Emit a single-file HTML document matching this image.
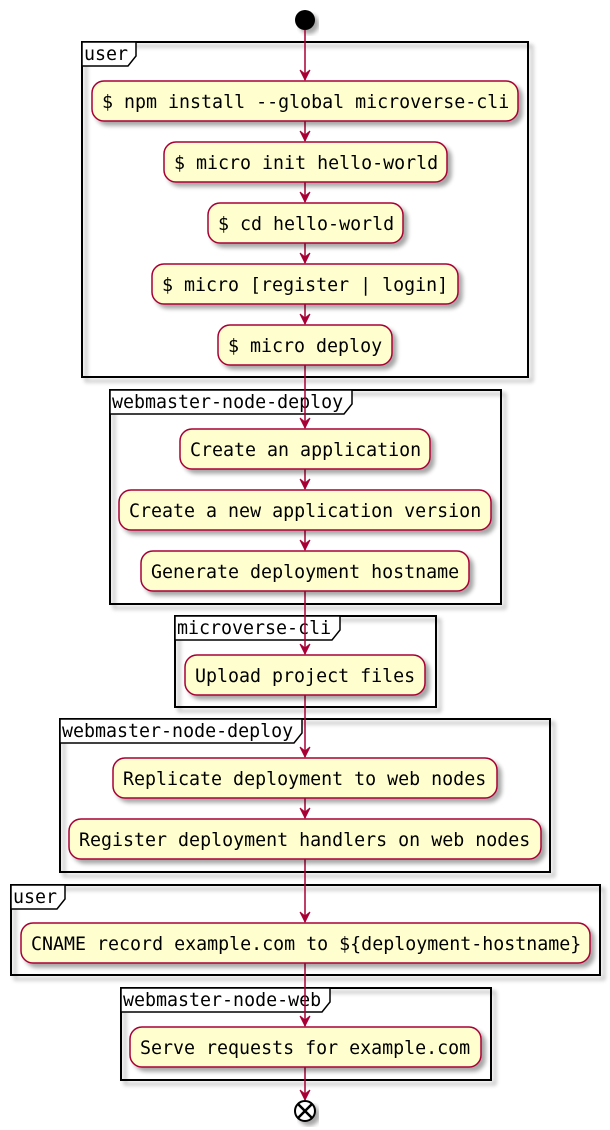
<!DOCTYPE html>
<html><head><meta charset="utf-8"><style>
html,body{margin:0;padding:0;background:#fff;}
svg{display:block;}
text{font-family:"DejaVu Sans Mono","Liberation Mono",monospace;font-size:18.3px;fill:#000;}
.n{fill:#FEFECE;stroke:#A80036;stroke-width:1.5;filter:url(#sh);}
.g{fill:none;stroke:#000;stroke-width:2;filter:url(#sh);}
.t{fill:#fff;stroke:#000;stroke-width:1.5;}
.l{stroke:#A80036;stroke-width:1.5;fill:none;}
.a{fill:#A80036;stroke:#A80036;}
</style></head><body>
<svg width="610" height="1130" viewBox="0 0 610 1130" xmlns="http://www.w3.org/2000/svg">
<defs><filter id="sh" x="-10%" y="-10%" width="130%" height="140%"><feGaussianBlur in="SourceAlpha" stdDeviation="2"/><feOffset dx="4" dy="4"/><feComponentTransfer><feFuncA type="linear" slope="0.35"/></feComponentTransfer><feMerge><feMergeNode/><feMergeNode in="SourceGraphic"/></feMerge></filter></defs>

<circle cx="305" cy="20" r="10" fill="#000" filter="url(#sh)"/>

<rect class="g" x="82" y="42" width="446" height="335"/>
<path class="t" d="M82 42H136V56L128 66H82Z"/><text x="84" y="60">user</text>
<rect class="g" x="110" y="390" width="391" height="214"/>
<path class="t" d="M110 390H352V404L344 414H110Z"/><text x="112" y="408">webmaster-node-deploy</text>
<rect class="g" x="175" y="616" width="261" height="91"/>
<path class="t" d="M175 616H340V630L332 640H175Z"/><text x="177" y="634">microverse-cli</text>
<rect class="g" x="60" y="719" width="490" height="153"/>
<path class="t" d="M60 719H302V733L294 743H60Z"/><text x="62" y="737">webmaster-node-deploy</text>
<rect class="g" x="11" y="885" width="589" height="90"/>
<path class="t" d="M11 885H65V899L57 909H11Z"/><text x="13" y="903">user</text>
<rect class="g" x="121" y="988" width="370" height="92"/>
<path class="t" d="M121 988H330V1002L322 1012H121Z"/><text x="123" y="1006">webmaster-node-web</text>

<path class="l" d="M305 30V80M305 121V141M305 182V202M305 243V263M305 304V324M305 365V428M305 469V489M305 530V550M305 591V654M305 695V757M305 798V818M305 859V922M305 963V1026M305 1067V1100"/>
<g class="a">
<path d="M300 70L305 80L310 70L305 74Z"/>
<path d="M300 131L305 141L310 131L305 135Z"/>
<path d="M300 192L305 202L310 192L305 196Z"/>
<path d="M300 253L305 263L310 253L305 257Z"/>
<path d="M300 314L305 324L310 314L305 318Z"/>
<path d="M300 418L305 428L310 418L305 422Z"/>
<path d="M300 479L305 489L310 479L305 483Z"/>
<path d="M300 540L305 550L310 540L305 544Z"/>
<path d="M300 644L305 654L310 644L305 648Z"/>
<path d="M300 747L305 757L310 747L305 751Z"/>
<path d="M300 808L305 818L310 808L305 812Z"/>
<path d="M300 912L305 922L310 912L305 916Z"/>
<path d="M300 1016L305 1026L310 1016L305 1020Z"/>
<path d="M300 1090L305 1100L310 1090L305 1094Z"/>
</g>

<rect class="n" x="92" y="81" width="426" height="40" rx="12"/><text x="102" y="108">$ npm install --global microverse-cli</text>
<rect class="n" x="164" y="142" width="283" height="40" rx="12"/><text x="174" y="169">$ micro init hello-world</text>
<rect class="n" x="208" y="203" width="195" height="40" rx="12"/><text x="218" y="230">$ cd hello-world</text>
<rect class="n" x="152" y="264" width="306" height="40" rx="12"/><text x="162" y="291">$ micro [register | login]</text>
<rect class="n" x="218" y="325" width="174" height="40" rx="12"/><text x="228" y="352">$ micro deploy</text>
<rect class="n" x="180" y="429" width="250" height="40" rx="12"/><text x="190" y="456">Create an application</text>
<rect class="n" x="119" y="490" width="372" height="40" rx="12"/><text x="129" y="517">Create a new application version</text>
<rect class="n" x="141" y="551" width="328" height="40" rx="12"/><text x="151" y="578">Generate deployment hostname</text>
<rect class="n" x="185" y="655" width="240" height="40" rx="12"/><text x="195" y="682">Upload project files</text>
<rect class="n" x="113" y="758" width="384" height="40" rx="12"/><text x="123" y="785">Replicate deployment to web nodes</text>
<rect class="n" x="69" y="819" width="472" height="40" rx="12"/><text x="79" y="846">Register deployment handlers on web nodes</text>
<rect class="n" x="21" y="923" width="569" height="40" rx="12"/><text x="31" y="950">CNAME record example.com to ${deployment-hostname}</text>
<rect class="n" x="130" y="1027" width="351" height="40" rx="12"/><text x="140" y="1054">Serve requests for example.com</text>

<circle cx="305" cy="1111" r="10" fill="#fff" stroke="#000" stroke-width="2" filter="url(#sh)"/>
<path d="M298 1104L312 1118M312 1104L298 1118" stroke="#000" stroke-width="2.5"/>
</svg>
</body></html>
